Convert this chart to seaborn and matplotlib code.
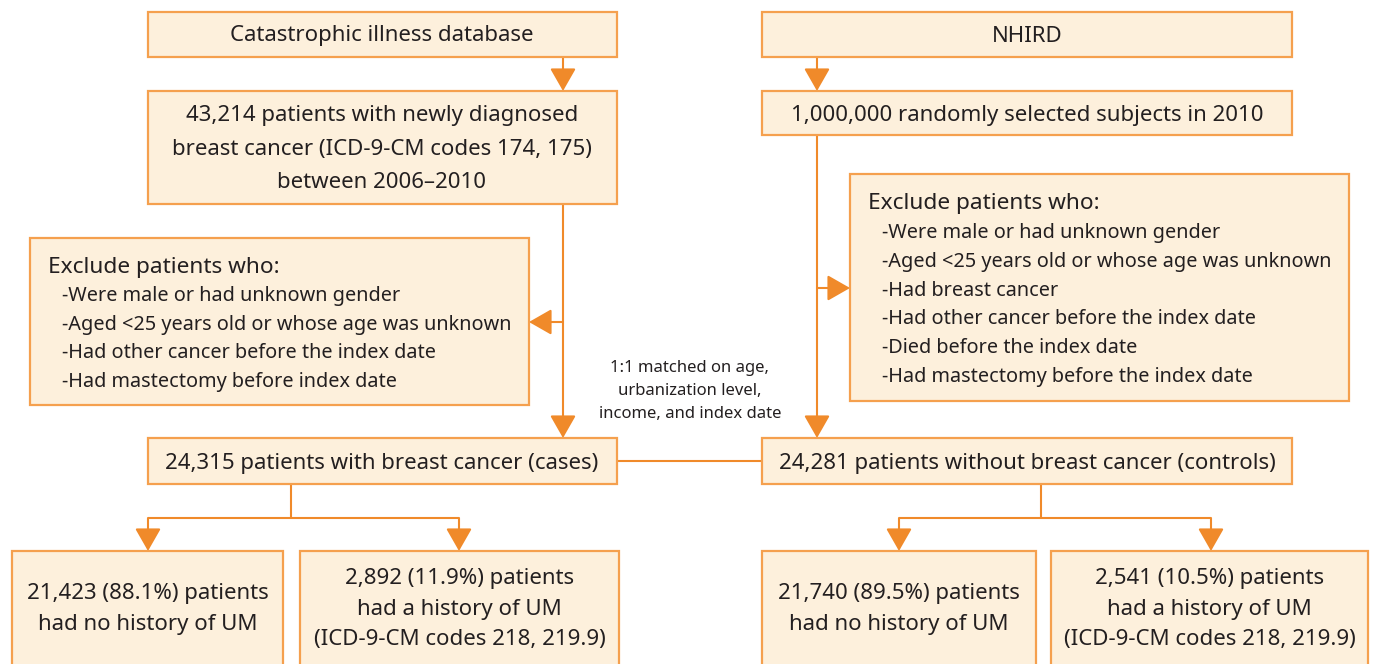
import matplotlib.pyplot as plt
import seaborn as sns
from matplotlib.patches import Rectangle

# box texts
top_left = "Catastrophic illness database"
top_right = "NHIRD"
cases_src = "43,214 patients with newly diagnosed\nbreast cancer (ICD-9-CM codes 174, 175)\nbetween 2006\u20132010"
ctrl_src = "1,000,000 randomly selected subjects in 2010"
excl_title = "Exclude patients who:"
excl_left = ["-Were male or had unknown gender",
             "-Aged <25 years old or whose age was unknown",
             "-Had other cancer before the index date",
             "-Had mastectomy before index date"]
excl_right = ["-Were male or had unknown gender",
              "-Aged <25 years old or whose age was unknown",
              "-Had breast cancer",
              "-Had other cancer before the index date",
              "-Died before the index date",
              "-Had mastectomy before the index date"]
match_note = "1:1 matched on age,\nurbanization level,\nincome, and index date"
cases = "24,315 patients with breast cancer (cases)"
controls = "24,281 patients without breast cancer (controls)"
outcomes = ["21,423 (88.1%) patients\nhad no history of UM",
            "2,892 (11.9%) patients\nhad a history of UM\n(ICD-9-CM codes 218, 219.9)",
            "21,740 (89.5%) patients\nhad no history of UM",
            "2,541 (10.5%) patients\nhad a history of UM\n(ICD-9-CM codes 218, 219.9)"]

FILL = "#fdf0dc"
EDGE = "#f5a04e"
ARROW = "#f08a2a"
TXT = "#231f20"

sns.set_theme(style="white")
plt.rcParams["font.family"] = ["Noto Sans", "DejaVu Sans"]

fig = plt.figure(figsize=(13.75, 6.64), dpi=100)
ax = fig.add_axes([0, 0, 1, 1])
ax.set_xlim(0, 1375)
ax.set_ylim(664, 0)
ax.axis("off")


def box(x0, y0, x1, y1):
    ax.add_patch(Rectangle((x0, y0), x1 - x0, y1 - y0, facecolor=FILL,
                           edgecolor=EDGE, lw=1.6, zorder=2))


def label(x, y, s, size=16, ha="center", ls=1.6):
    ax.text(x, y + 2, s, ha=ha, va="center", fontsize=size, color=TXT,
            linespacing=ls, zorder=3)


def line(xs, ys):
    ax.plot(xs, ys, color=ARROW, lw=1.5, zorder=1, solid_capstyle="butt")


def arrow(x0, y0, x1, y1):
    ax.annotate("", xy=(x1, y1), xytext=(x0, y0),
                arrowprops=dict(arrowstyle="-|>,head_length=0.7,head_width=0.4",
                                color=ARROW, lw=1.5, shrinkA=0, shrinkB=0,
                                mutation_scale=20), zorder=1)


# top row
box(148, 12, 617, 57)
label(382, 34, top_left)
box(762, 12, 1292, 57)
label(1027, 34, top_right)
arrow(563, 57, 563, 91)
arrow(817, 57, 817, 91)

box(148, 91, 617, 204)
label(382, 147, cases_src, ls=1.75)
box(762, 91, 1292, 135)
label(1027, 113, ctrl_src)

# exclusion boxes
box(30, 238, 529, 405)
label(48, 265, excl_title, size=16.3, ha="left")
for i, s in enumerate(excl_left):
    label(62, 294 + i * 28.7, s, size=14.3, ha="left")
box(850, 174, 1349, 401)
label(868, 201, excl_title, size=16.3, ha="left")
for i, s in enumerate(excl_right):
    label(882, 231 + i * 28.8, s, size=14.3, ha="left")

arrow(563, 204, 563, 438)
arrow(563, 322, 529, 322)
arrow(817, 135, 817, 438)
arrow(817, 288, 850, 288)

label(690, 389, match_note, size=12)

# cases / controls
box(148, 438, 617, 484)
label(382, 461, cases)
box(762, 438, 1292, 484)
label(1027, 461, controls)
line([617, 762], [461, 461])

line([291, 291], [484, 518])
line([148, 459], [518, 518])
arrow(148, 518, 148, 551)
arrow(459, 518, 459, 551)
line([1041, 1041], [484, 518])
line([899, 1211], [518, 518])
arrow(899, 518, 899, 551)
arrow(1211, 518, 1211, 551)

# outcome boxes
spans = [(12, 283), (300, 619), (762, 1036), (1051, 1368)]
for (x0, x1), s in zip(spans, outcomes):
    box(x0, 551, x1, 700)
    label((x0 + x1) / 2, 607, s)

fig.savefig("out.png", dpi=100)
